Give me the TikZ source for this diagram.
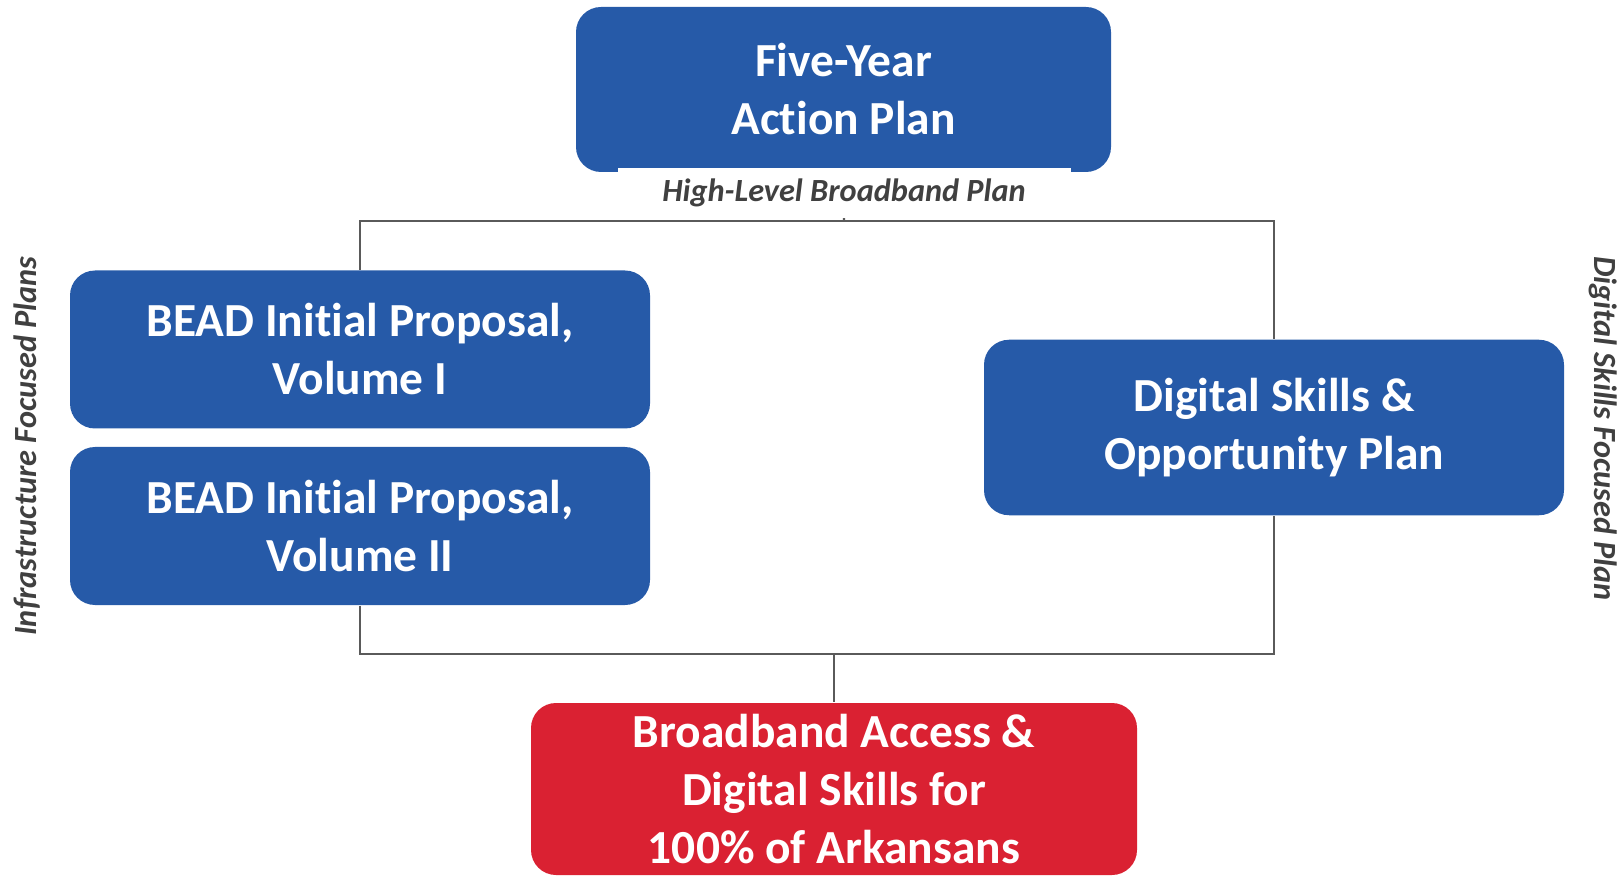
\documentclass[tikz,border=0pt]{standalone}
\usepackage{fontspec}
\setmainfont{Carlito}[Ligatures=NoCommon]
\usetikzlibrary{calc}
\definecolor{planblue}{RGB}{38,90,168}
\definecolor{goalred}{RGB}{218,33,50}
\definecolor{notegray}{RGB}{64,64,64}
\definecolor{linegray}{RGB}{90,90,90}
\tikzset{
	planbox/.style={fill=planblue, text=white, rounded corners=0.25cm, align=center,
		font=\fontsize{13.5}{16.5}\selectfont\bfseries, inner sep=0pt},
	goalbox/.style={planbox, fill=goalred},
	note/.style={text=notegray, font=\fontsize{9.2}{11}\selectfont\bfseries\itshape, inner sep=0pt},
	link/.style={draw=linegray, line width=0.6pt}
}
\begin{document}
\begin{tikzpicture}
	% 1619 x 877 px, 1cm = 100px
	\useasboundingbox (0,0) rectangle (16.19,8.77);
	
	% boxes
	\node[planbox, minimum width=5.35cm, minimum height=1.65cm] (plan) at (8.435,7.875) {Five-Year\\Action Plan};
	\node[planbox, minimum width=5.80cm, minimum height=1.58cm] (beadI) at (3.60,5.275) {BEAD Initial Proposal,\\Volume I};
	\node[planbox, minimum width=5.80cm, minimum height=1.58cm] (beadII) at (3.60,3.51) {BEAD Initial Proposal,\\Volume II};
	\node[planbox, minimum width=5.80cm, minimum height=1.755cm] (dsop) at (12.74,4.495) {Digital Skills \&\\Opportunity Plan};
	\node[goalbox, minimum width=6.06cm, minimum height=1.72cm] (goal) at (8.34,0.88) {Broadband Access \&\\Digital Skills for\\100\% of Arkansans};
	
	% junctions
	\coordinate (jtop) at (8.44,6.56);
	\coordinate (jbot) at (8.34,2.234);
	
	% connectors
	\draw[link] (plan) -- (jtop);
	\draw[link] (beadI.north) |- (jtop) -| (dsop.north);
	\draw[link] (beadII.south) |- (jbot) -| (dsop.south);
	\draw[link] (jbot) -- (goal.north);
	
	% labels
	\node[note, fill=white, minimum width=4.53cm, minimum height=0.5cm] (hlbp) at (8.44,6.84) {High-Level Broadband Plan};
	\node[note, rotate=90] (infra) at (0.27,4.31) {Infrastructure Focused Plans};
	\node[note, rotate=-90] (digi) at (16.03,4.485) {Digital Skills Focused Plan};
\end{tikzpicture}
\end{document}
